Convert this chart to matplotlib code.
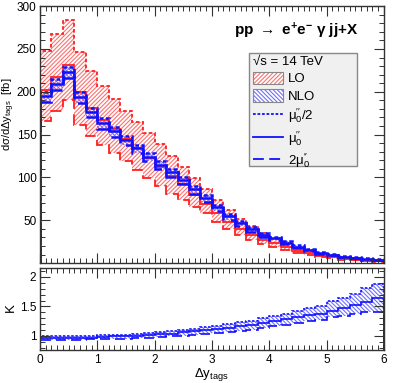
import numpy as np
import matplotlib
matplotlib.use("Agg")
import matplotlib.pyplot as plt
from matplotlib.lines import Line2D
from matplotlib.patches import Patch, Rectangle
from matplotlib.ticker import MultipleLocator

plt.rcParams['font.family'] = 'Liberation Sans'
plt.rcParams['mathtext.fontset'] = 'custom'
plt.rcParams['mathtext.rm'] = 'Liberation Sans'
plt.rcParams['mathtext.it'] = 'Liberation Sans:italic'
plt.rcParams['mathtext.bf'] = 'Liberation Sans:bold'
plt.rcParams['mathtext.default'] = 'regular'
plt.rcParams['hatch.linewidth'] = 0.8

# bin edges in delta y_tags (30 bins of 0.2)
edges = np.linspace(0, 6, 31)

# LO cross section [fb], three scales
lo_central = [202, 217, 231, 200, 181, 167, 156, 145, 134, 123, 112, 102, 92, 80, 69,
              58, 48, 40, 33, 27, 23, 18.5, 14.5, 11.3, 8.8, 6.8, 5.2, 4.0, 3.0, 2.3]
lo_half = [248, 267, 284, 246, 224, 207, 192, 178, 165, 152, 139, 125, 112, 99, 86,
           74, 62, 52, 43, 35, 28.5, 23, 18, 14, 11, 8.4, 6.4, 4.9, 3.7, 2.8]
lo_double = [166, 178, 191, 161, 148, 138, 128, 119, 109, 99, 90, 81, 74, 66, 58,
             48, 40, 33, 27, 22, 18.5, 15, 11.7, 9.1, 7.1, 5.5, 4.2, 3.2, 2.4, 1.8]

# NLO cross section [fb], three scales
nlo_central = [195, 209, 223, 194, 176, 164, 154, 144, 134, 124, 115, 106, 97.5, 86.4, 75.9,
               65, 54.5, 46.4, 39.3, 32.8, 28.8, 23.9, 19.1, 15.4, 12.1, 9.7, 7.6, 6.1, 4.7, 3.8]
nlo_half = [200, 215, 229, 200, 181, 169, 159, 148, 138, 129, 119, 110, 101, 89.6, 79.4,
            68.2, 57.6, 49.2, 41.6, 35.1, 30.6, 25.3, 20.7, 16.6, 13.3, 10.9, 8.5, 6.8, 5.4, 4.3]
nlo_double = [188, 202, 216, 187, 170, 157, 147, 138, 129, 119, 110, 101, 92, 80.8, 71.1,
              60.9, 50.9, 43.6, 36.5, 30.5, 26.7, 22, 17.6, 14.1, 11.2, 9.0, 6.9, 5.5, 4.2, 3.2]

# K factor
k_central = [0.965, 0.965, 0.965, 0.97, 0.97, 0.98, 0.99, 0.99, 1.0, 1.01, 1.03, 1.04, 1.06, 1.08, 1.10,
             1.12, 1.135, 1.16, 1.19, 1.215, 1.25, 1.29, 1.32, 1.36, 1.38, 1.43, 1.47, 1.53, 1.57, 1.64]
k_half = [0.99, 0.99, 0.99, 1.0, 1.0, 1.01, 1.02, 1.02, 1.03, 1.05, 1.06, 1.08, 1.10, 1.12, 1.15,
          1.175, 1.2, 1.23, 1.26, 1.3, 1.33, 1.37, 1.43, 1.47, 1.51, 1.6, 1.64, 1.71, 1.81, 1.88]
k_double = [0.93, 0.93, 0.935, 0.935, 0.94, 0.94, 0.945, 0.95, 0.96, 0.97, 0.98, 0.99, 1.0, 1.01, 1.03,
            1.05, 1.06, 1.09, 1.107, 1.13, 1.16, 1.19, 1.215, 1.25, 1.27, 1.32, 1.33, 1.37, 1.4, 1.41]

red = '#ff2020'
red_hatch = '#ff7070'
blue = '#1010ff'
blue_hatch = '#7070ff'
dotted = (0, (2, 1.3))
dashed = (0, (6, 3))
fs = 8.5

fig = plt.figure(figsize=(3.95, 3.83), dpi=100)
ax1 = fig.add_axes([0.101, 0.313, 0.871, 0.671])
ax2 = fig.add_axes([0.101, 0.086, 0.871, 0.214])

# top panel
ax1.stairs(lo_half, edges, baseline=lo_double, fill=True, facecolor='none',
           edgecolor=red_hatch, hatch='////////', lw=0)
ax1.stairs(nlo_half, edges, baseline=nlo_double, fill=True, facecolor='none',
           edgecolor=blue_hatch, hatch='\\\\\\\\\\\\\\\\', lw=0)
ax1.stairs(lo_half, edges, color=red, lw=1.3, ls=dotted)
ax1.stairs(lo_central, edges, color=red, lw=1.3)
ax1.stairs(lo_double, edges, color=red, lw=1.3, ls=dashed)
ax1.stairs(nlo_half, edges, color=blue, lw=1.8, ls=(0, (1.5, 1)))
ax1.stairs(nlo_central, edges, color=blue, lw=1.8)
ax1.stairs(nlo_double, edges, color=blue, lw=1.8, ls=dashed)

ax1.set_xlim(0, 6)
ax1.set_ylim(0, 300)
ax1.set_yticks([50, 100, 150, 200, 250, 300])
ax1.yaxis.set_minor_locator(MultipleLocator(10))
ax1.xaxis.set_major_locator(MultipleLocator(1))
ax1.xaxis.set_minor_locator(MultipleLocator(0.1))
ax1.set_xticklabels([])
ax1.set_ylabel(r'd$\sigma$/d$\Delta$y$_{tags}$  [fb]', fontsize=8)
ax1.yaxis.set_label_coords(-0.067, 0.58)

ax1.text(0.745, 0.905, r'pp $\rightarrow$ e$^{+}$e$^{-}$ $\gamma$ jj+X', transform=ax1.transAxes,
         ha='center', va='center', fontsize=11, fontweight='bold')

# legend box
frame = '#888888'
ax1.add_patch(Rectangle((0.608, 0.377), 0.314, 0.44, transform=ax1.transAxes,
                        facecolor='#f0f0f0', edgecolor=frame, lw=1.0, zorder=4))
h_lo = (Patch(facecolor='white', edgecolor=red_hatch, hatch='////////', lw=0),
        Patch(facecolor='none', edgecolor=frame, lw=0.8))
h_nlo = (Patch(facecolor='white', edgecolor=blue_hatch, hatch='\\\\\\\\\\\\\\\\', lw=0),
         Patch(facecolor='none', edgecolor=frame, lw=0.8))
handles = [h_lo, h_nlo,
           Line2D([], [], color=blue, lw=1.3, ls=(0, (1.5, 1))),
           Line2D([], [], color=blue, lw=1.3),
           Line2D([], [], color=blue, lw=1.3, ls=dashed)]
labels = ['LO', 'NLO', r"$\mu_0^{\prime\prime}$/2", r"$\mu_0^{\prime\prime}$", r"2$\mu_0^{\prime\prime}$"]
leg = ax1.legend(handles, labels, loc='upper left', bbox_to_anchor=(0.608, 0.822),
                 title='\u221as = 14 TeV', title_fontsize=9.5, fontsize=9.5,
                 alignment='left', frameon=False, handlelength=2.3, handleheight=1.1,
                 labelspacing=0.28, borderpad=0.3, borderaxespad=0.0, handletextpad=0.35)
leg.set_zorder(5)

# bottom panel
ax2.stairs(k_half, edges, baseline=k_double, fill=True, facecolor='none',
           edgecolor=blue_hatch, hatch='\\\\\\\\\\\\\\\\', lw=0)
ax2.stairs(k_half, edges, color=blue, lw=1.2, ls=(0, (1.5, 1)))
ax2.stairs(k_central, edges, color=blue, lw=1.2)
ax2.stairs(k_double, edges, color=blue, lw=1.2, ls=dashed)
ax2.set_xlim(0, 6)
ax2.set_ylim(0.76, 2.15)
ax2.set_yticks([1, 1.5, 2])
ax2.set_yticklabels(['1', '1.5', '2'])
ax2.yaxis.set_minor_locator(MultipleLocator(0.1))
ax2.xaxis.set_major_locator(MultipleLocator(1))
ax2.xaxis.set_minor_locator(MultipleLocator(0.1))
ax2.set_ylabel('K', fontsize=9.5)
ax2.yaxis.set_label_coords(-0.067, 0.52)
ax2.set_xlabel(r'$\Delta$y$_{tags}$', fontsize=9.5, labelpad=0)

for ax in (ax1, ax2):
    ax.tick_params(which='both', direction='in', top=True, right=True, labelsize=fs,
                   color='#333333', pad=2.5)
    ax.tick_params(which='major', length=7, width=0.8)
    ax.tick_params(which='minor', length=3.5, width=0.7)
    for s in ax.spines.values():
        s.set_linewidth(1.0)
        s.set_color('#333333')

fig.savefig('out.png', dpi=100)
